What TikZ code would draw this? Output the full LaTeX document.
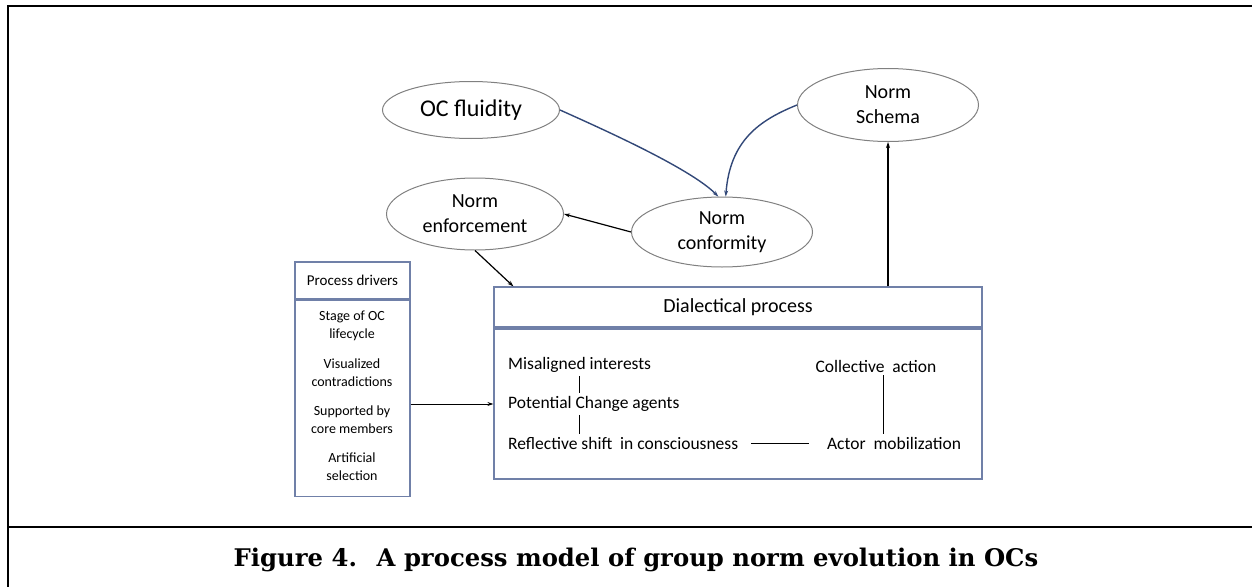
\documentclass[tikz,border=0pt]{standalone}
\usepackage{fontspec}
\setmainfont{Carlito}
\newfontfamily\capfont{DejaVu Serif}
\usetikzlibrary{shapes.geometric,arrows.meta}
\definecolor{ovalgray}{RGB}{128,128,128}
\definecolor{boxblue}{RGB}{112,128,168}
\definecolor{curveblue}{RGB}{50,72,120}

\begin{document}
\begin{tikzpicture}[x=1pt,y=-1pt,
	oval/.style={ellipse, draw=ovalgray, line width=1pt, inner sep=0pt, align=center, font=\fontsize{20}{25}\selectfont},
	boxnode/.style={rectangle, draw=boxblue, line width=1.2pt, inner sep=0pt},
	item/.style={align=center, font=\fontsize{14}{18}\selectfont},
	stage/.style={inner sep=3pt, font=\fontsize{17.5}{21}\selectfont},
	link/.style={line width=1.2pt, -{Stealth[length=6pt,width=4pt]}},
	curvelink/.style={draw=curveblue, line width=1.4pt, -{Stealth[length=6pt,width=4pt]}}]
			\useasboundingbox (0,0) rectangle (1252,586);
			% Frame
			\draw[line width=2.5pt] (1252,6) -| (8,590);
			\draw[line width=2.5pt] (8,527) -- (1252,527);
			% Ovals
			\node[oval, minimum width=177pt, minimum height=57pt, font=\fontsize{24}{28}\selectfont] (fluid) at (471,110) {OC fluidity};
			\node[oval, minimum width=177pt, minimum height=72pt] (enforce) at (475,214) {Norm\\enforcement};
			\node[oval, minimum width=181pt, minimum height=70pt] (conform) at (722,232) {Norm\\conformity};
			\node[oval, minimum width=181pt, minimum height=73pt] (schema) at (888,105) {Norm\\Schema};
			% Process drivers
			\node[boxnode, minimum width=115pt, minimum height=37pt, font=\fontsize{15}{18}\selectfont] (drivers) at (352.5,280.5) {Process drivers};
			\node[boxnode, minimum width=115pt, minimum height=196pt, anchor=north] (driverlist) at (drivers.south) {};
			\foreach \txt [count=\i] in {{Stage of OC\\lifecycle}, {Visualized\\contradictions}, {Supported by\\core members}, {Artificial\\selection}} {
				\node[item] (drv\i) at (352,278.5+47*\i) {\txt};
			}
			% Dialectical process
			\node[boxnode, minimum width=488pt, minimum height=40pt, font=\fontsize{20}{24}\selectfont] (dial) at (738,307) {Dialectical process};
			\node[boxnode, minimum width=488pt, minimum height=150pt] (dialbody) at (738,404) {};
			\node[stage, anchor=west] (mis) at (505,365) {Misaligned interests};
			\node[stage, anchor=west] (pot) at (505,404) {Potential Change agents};
			\node[stage, anchor=west] (ref) at (505,443) {Reflective shift~ in consciousness};
			\node[stage] (col) at (876,366) {Collective~ action};
			\node[stage] (act) at (894,443) {Actor~ mobilization};
			\draw[line width=1pt] (mis.south) -- (mis.south |- pot.north);
			\draw[line width=1pt] (mis.south |- pot.south) -- (mis.south |- ref.north);
			\draw[line width=1pt, shorten <=10pt, shorten >=15pt] (ref.east) -- (act.west);
			\draw[line width=1pt] ([xshift=7pt]col.south) -- ([xshift=7pt]col.south |- act.north);
			% Connectors
			\draw[curvelink] (fluid.east) .. controls (600,128) and (690,168) .. (conform.96);
			\draw[curvelink] (schema.west) .. controls (760,120) and (730,140) .. (conform.84);
			\draw[link] (conform.west) -- (enforce.east);
			\draw[link] (enforce.south) -- ([xshift=20pt]dial.north west);
			\draw[link, line width=1pt] (driverlist.east |- pot.west) -- (dialbody.west |- pot.west);
			\draw[link] (dial.north -| schema.south) -- (schema.south);
			% Caption
			\node[font=\capfont\bfseries\fontsize{24.3}{29}\selectfont] (caption) at (636,560) {Figure 4.~ A process model of group norm evolution in OCs};
		\end{tikzpicture}
\end{document}
